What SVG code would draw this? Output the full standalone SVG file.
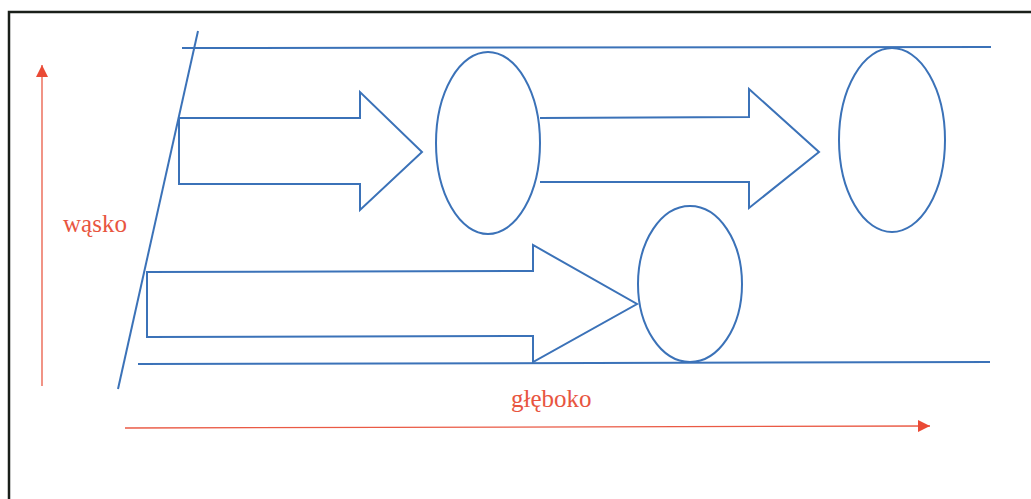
<svg xmlns="http://www.w3.org/2000/svg" width="1031" height="499" viewBox="0 0 1031 499">
<style>
.b{fill:none;stroke:#3b72b8;stroke-width:2;stroke-linejoin:miter}
.r{fill:none;stroke:#ea5a45;stroke-width:1.3}
.t{font-family:"Liberation Serif",serif;font-size:25px;fill:#e8553f}
</style>
<defs>
<marker id="ah" viewBox="0 0 10 10" refX="10" refY="5" markerWidth="12" markerHeight="12" markerUnits="userSpaceOnUse" orient="auto">
<path d="M0,0 L10,5 L0,10 Z" fill="#ea4a35"/>
</marker>
</defs>
<rect x="0" y="0" width="1031" height="499" fill="#ffffff"/>
<rect x="9" y="12" width="1040" height="520" fill="none" stroke="#1a1f1a" stroke-width="2.5"/>
<g id="axes">
<line class="r" x1="42" y1="386" x2="42" y2="65" marker-end="url(#ah)"/>
<line class="r" x1="125" y1="428" x2="930" y2="426" marker-end="url(#ah)"/>
</g>
<text class="t" x="63" y="232">wąsko</text>
<text class="t" x="511" y="407">głęboko</text>
<g id="frame-lines">
<line class="b" x1="198" y1="31" x2="118" y2="389"/>
<line class="b" x1="182" y1="48" x2="991" y2="47"/>
<line class="b" x1="138" y1="364" x2="990" y2="362"/>
</g>
<g id="connectors">
<path id="arrow1" class="b" d="M179,118 L360,118 L360,92 L422,152 L360,210 L360,184 L179,184 Z"/>
<path id="arrow2" class="b" d="M540,118 L749,117 L749,89 L819,152 L749,208 L749,182 L540,182"/>
<path id="arrow3" class="b" d="M147,272 L533,271 L533,245 L637,304 L533,362 L533,336 L147,337 Z"/>
</g>
<g id="node1"><ellipse class="b" cx="488" cy="143" rx="52" ry="91"/></g>
<g id="node2"><ellipse class="b" cx="892" cy="140" rx="53" ry="92"/></g>
<g id="node3"><ellipse class="b" cx="690" cy="284" rx="52" ry="78"/></g>
</svg>
